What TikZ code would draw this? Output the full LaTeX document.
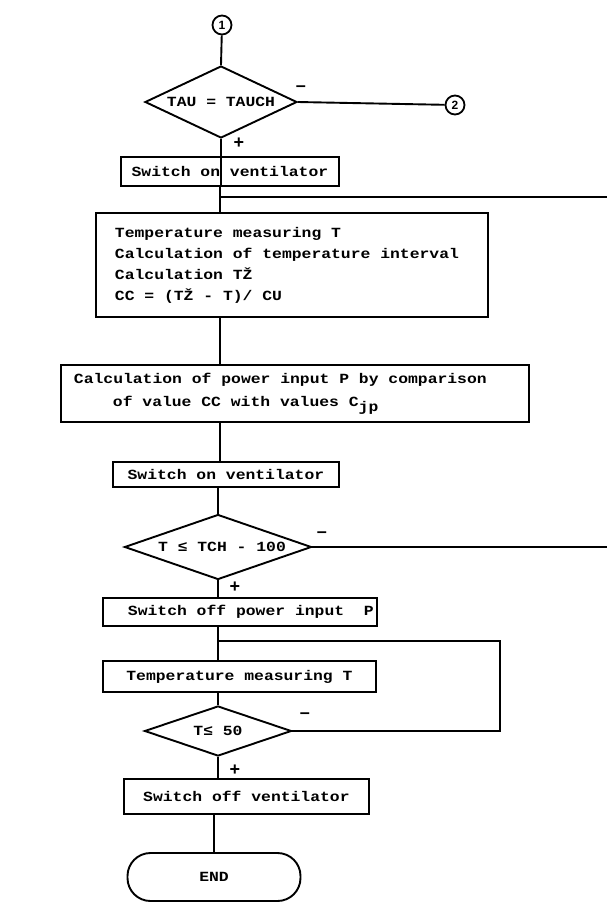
\documentclass[tikz,border=0pt]{standalone}
\usepackage{fontspec}
\setmonofont{Liberation Mono}[FakeStretch=1.17]
\newfontfamily\numfont{Liberation Sans}
\usetikzlibrary{shapes.geometric}
\newcommand{\monospaces}{\spaceskip=0pt\xspaceskip=0pt\relax}
\begin{document}
\begin{tikzpicture}[x=1pt,y=-1pt,
  every node/.style={font=\ttfamily\bfseries\fontsize{14}{21}\selectfont},
  flow/.style={line width=1.9pt},
  box/.style={draw, line width=1.9pt, inner sep=0pt, anchor=north west},
  leftbox/.style={box, align=left, inner xsep=19pt},
  dia/.style={draw, diamond, line width=1.9pt, inner sep=0pt},
  conn/.style={draw, circle, line width=1.8pt, inner sep=0pt, minimum size=19pt,
    font=\numfont\bfseries\fontsize{12}{12}\selectfont},
  term/.style={draw, line width=1.9pt, rounded corners=23pt, inner sep=0pt},
  sign/.style={inner sep=0pt, font=\numfont\bfseries\fontsize{18}{18}\selectfont}
]
\useasboundingbox (0,0) rectangle (607,903);

% off-page connectors
\node[conn] (c1) at (222,25) {1};
\node[conn] (c2) at (455,105) {2};

% first decision
\node[dia, shape aspect=2.1, minimum width=152pt, minimum height=72pt] (d1) at (221,102) {TAU = TAUCH};
\node[sign] (d1m) at (301,89) {–};
\node[sign] (d1p) at (239,143) {+};

% process blocks
\node[box, minimum width=218pt, minimum height=29pt] (sw1) at (120,156) {Switch on ventilator};
\node[leftbox, text width=354pt, minimum height=104pt] (meas) at (95,212)
  {\monospaces Temperature measuring T\\Calculation of temperature interval\\Calculation TŽ\\CC = (TŽ - T)/ CU};
\node[leftbox, inner xsep=0pt, text width=468pt, minimum height=57pt] (calc) at (60,364)
  {\monospaces\hspace*{13pt}Calculation of power input P by comparison\\[2pt]
   \hspace*{52pt}of value CC with values C\raisebox{-5pt}{jp}};
\node[box, minimum width=226pt, minimum height=25pt] (sw2) at (112,461) {Switch on ventilator};

% second decision
\node[dia, shape aspect=2.9, minimum width=187pt, minimum height=65pt] (d2) at (218,547) {\hspace*{8pt}T ≤ TCH - 100};
\node[sign] (d2m) at (322,535) {–};
\node[sign] (d2p) at (235,587) {+};

\node[box, minimum width=274pt, minimum height=28pt] (pw) at (102,597)
  {\makebox[274pt][l]{\hspace*{25pt}Switch off power input\ \ P}};
\node[box, minimum width=273pt, minimum height=31pt] (tm) at (102,660) {Temperature measuring T};

% third decision
\node[dia, shape aspect=2.9, minimum width=147pt, minimum height=50pt] (d3) at (218,731) {T≤ 50};
\node[sign] (d3m) at (305,716) {–};
\node[sign] (d3p) at (235,770) {+};

\node[box, minimum width=245pt, minimum height=35pt] (sv) at (123,778) {Switch off ventilator};
\node[term, minimum width=173pt, minimum height=48pt] (end) at (214,877) {END};

% junction points of the loops
\coordinate (j1) at (220,197);
\coordinate (r1) at (607,547);
\coordinate (r2) at (607,197);
\coordinate (j2) at (218,641);
\coordinate (lr) at (500,641);

% main flow
\draw[flow] (c1) -- (d1.north);
\draw[flow] (d1.east) -- (c2);
\draw[flow] (d1.south) -- (d1.south |- sw1.south);
\draw[flow] (j1 |- sw1.south) -- (j1 |- meas.north);
\draw[flow] (j1 |- meas.south) -- (j1 |- calc.north);
\draw[flow] (j1 |- calc.south) -- (j1 |- sw2.north);
\draw[flow] (d2.north |- sw2.south) -- (d2.north);
\draw[flow] (d2.south) -- (d2.south |- pw.north);
\draw[flow] (j2 |- pw.south) -- (j2 |- tm.north);
\draw[flow] (d3.north |- tm.south) -- (d3.north);
\draw[flow] (d3.south) -- (d3.south |- sv.north);
\draw[flow] (end.north |- sv.south) -- (end.north);

% loops back
\draw[flow] (d2.east) -- (r1);
\draw[flow] (r2) -- (j1);
\draw[flow] (d3.east) -| (lr) -- (j2);
\end{tikzpicture}
\end{document}
